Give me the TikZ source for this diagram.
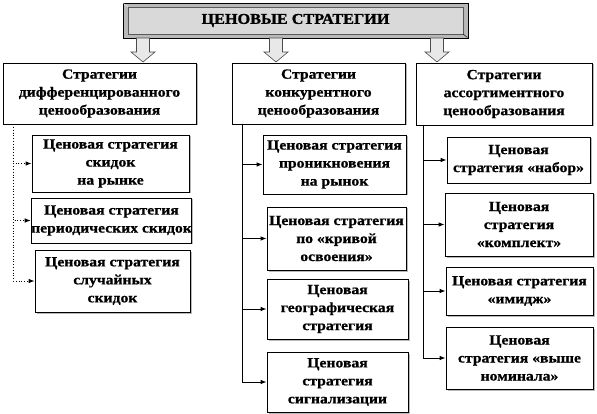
\documentclass[tikz,border=0pt]{standalone}
\usepackage{fontspec}
\setmainfont{Liberation Serif}
\newfontfamily\boxfont[FakeStretch=1.12,FakeBold=0.8]{Liberation Serif Bold}
\newfontfamily\titlefont[FakeStretch=1.08,FakeBold=1.2]{Liberation Serif Bold}
\usetikzlibrary{arrows.meta,shadows}
\begin{document}
\begin{tikzpicture}[x=1pt,y=-1pt,
  every node/.style={font=\boxfont\fontsize{14}{18}\selectfont, align=center, inner sep=0pt},
  box/.style={draw=black, line width=0.8pt, fill=white, minimum width=#1,
    drop shadow={shadow xshift=1.5pt, shadow yshift=-1.5pt, fill=gray!55, opacity=1}},
  link/.style={line width=0.8pt, -{Latex[length=6pt,width=4.5pt]}},
  dlink/.style={link, dotted},
  barrow/.style={fill=gray!18, draw=gray!60!black, line width=0.6pt}
]
\useasboundingbox (0,0) rectangle (597,414);

% title
\draw[fill=gray!55, draw=black, line width=0.8pt] (123,3) rectangle (468,38);
\draw[fill=gray!30, draw=gray!70!black, line width=0.5pt] (128,7) rectangle (463,34);
\draw[white!80!gray, line width=0.6pt] (123.5,3.5) -- (128,7);
\draw[gray!30!black, line width=0.6pt] (467.5,37.5) -- (463,34);
\node[font=\titlefont\fontsize{15}{17}\selectfont] (title) at (295.5,20.5) {ЦЕНОВЫЕ СТРАТЕГИИ};

% block arrows
\foreach \x in {143,276,437}
  \draw[barrow] (\x-6.5,38) -- (\x-6.5,52) -- (\x-12,52) -- (\x,62) -- (\x+12,52) -- (\x+6.5,52) -- (\x+6.5,38) -- cycle;

% parents
\node[box=193, minimum height=61] (L0) at (99.5,93.5) {Стратегии\\ дифференцированного\\ ценообразования};
\node[box=173, minimum height=61] (M0) at (318.5,93.5) {Стратегии\\ конкурентного\\ ценообразования};
\node[box=176, minimum height=62] (R0) at (504,94) {Стратегии\\ ассортиментного\\ ценообразования};

% left children
\node[box=157, minimum height=57] (L1) at (110.5,163.5) {Ценовая стратегия\\ скидок\\ на рынке};
\node[box=157, minimum height=45] (L2) at (111.5,220.5) {Ценовая стратегия\\ периодических скидок};
\node[box=155, minimum height=62] (L3) at (112.5,281) {Ценовая стратегия\\ случайных\\ скидок};

% middle children
\node[box=143, minimum height=59] (M1) at (334.5,164.5) {Ценовая стратегия\\ проникновения\\ на рынок};
\node[box=139, minimum height=63] (M2) at (336.5,238.5) {Ценовая стратегия\\ по «кривой\\ освоения»};
\node[box=141, minimum height=60] (M3) at (337.5,309) {Ценовая\\ географическая\\ стратегия};
\node[box=141, minimum height=60] (M4) at (337.5,382) {Ценовая\\ стратегия\\ сигнализации};

% right children
\node[box=143, minimum height=46] (R1) at (518.5,160) {Ценовая\\ стратегия «набор»};
\node[box=148, minimum height=63] (R2) at (519,224.5) {Ценовая\\ стратегия\\ «комплект»};
\node[box=147, minimum height=48] (R3) at (519.5,291) {Ценовая стратегия\\ «имидж»};
\node[box=147, minimum height=62] (R4) at (519.5,358) {Ценовая\\ стратегия «выше\\ номинала»};

% trunks
\coordinate (lt) at (13,127);
\coordinate (mt) at (242,124);
\coordinate (rt) at (423,125);

\foreach \c in {L1,L2,L3} \draw[dlink] (lt) |- (\c.west);
\foreach \c in {M1,M2,M3,M4} \draw[link] (mt) |- (\c.west);
\foreach \c in {R1,R2,R3,R4} \draw[link] (rt) |- (\c.west);
\end{tikzpicture}
\end{document}
